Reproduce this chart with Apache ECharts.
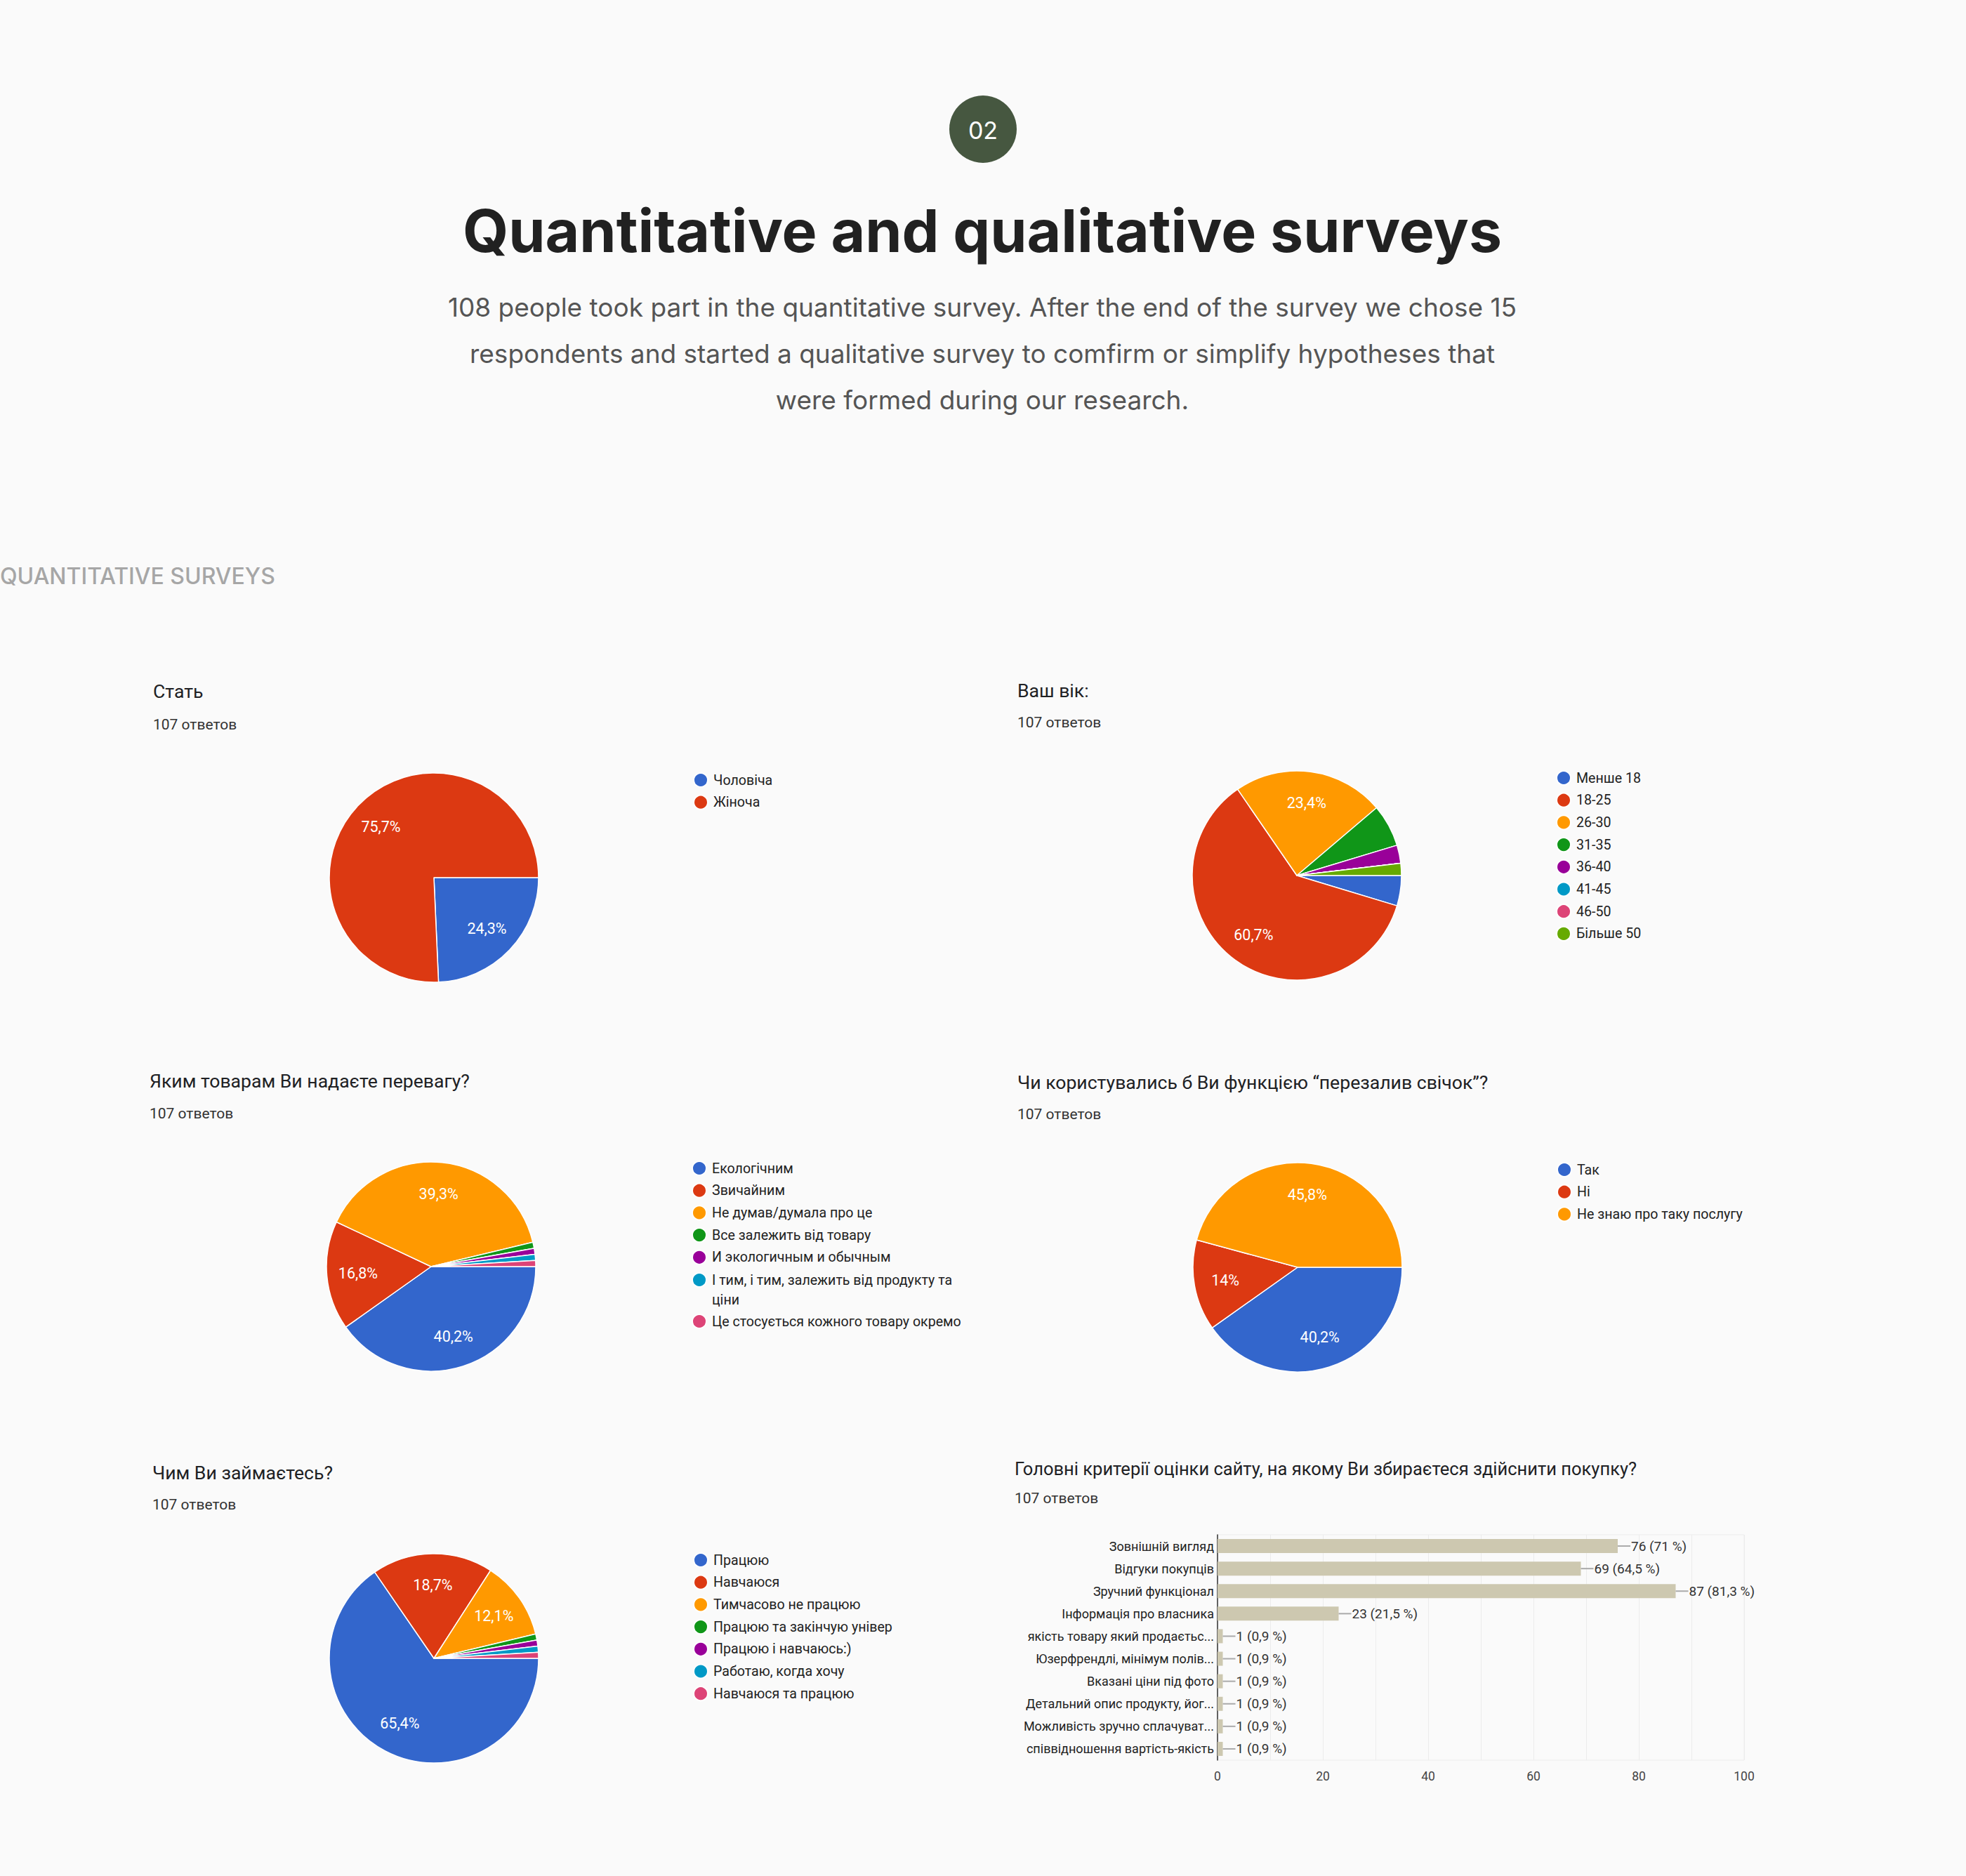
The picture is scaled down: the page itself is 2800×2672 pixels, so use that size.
<!DOCTYPE html>
<html><head><meta charset="utf-8">
<script src="https://cdn.jsdelivr.net/npm/echarts@6/dist/echarts.min.js"></script>
<style>html,body{margin:0;padding:0;background:#fafafa}#c{width:2800px;height:2672px}</style>
</head><body><div id="c"></div>
<script>
// ---------- data ----------
const TOTAL = 107;
const answersText = '107 ответов';
const panelTitles = ['Стать', 'Ваш вік:', 'Яким товарам Ви надаєте перевагу?',
  'Чи користувались б Ви функцією “перезалив свічок”?', 'Чим Ви займаєтесь?',
  'Головні критерії оцінки сайту, на якому Ви збираєтеся здійснити покупку?'];

const genderNames = ['Чоловіча', 'Жіноча'];
const genderValues = [26, 81];

const ageNames = ['Менше 18', '18-25', '26-30', '31-35', '36-40', '41-45', '46-50', 'Більше 50'];
const ageValues = [5, 65, 25, 7, 3, 0, 0, 2];

const goodsNames = ['Екологічним', 'Звичайним', 'Не думав/думала про це', 'Все залежить від товару',
  'И экологичным и обычным', 'І тим, і тим, залежить від продукту та ціни', 'Це стосується кожного товару окремо'];
const goodsValues = [43, 18, 42, 1, 1, 1, 1];

const refillNames = ['Так', 'Ні', 'Не знаю про таку послугу'];
const refillValues = [43, 15, 49];

const occNames = ['Працюю', 'Навчаюся', 'Тимчасово не працюю', 'Працюю та закінчую універ',
  'Працюю і навчаюсь:)', 'Работаю, когда хочу', 'Навчаюся та працюю'];
const occValues = [70, 20, 13, 1, 1, 1, 1];

const critNames = ['Зовнішній вигляд', 'Відгуки покупців', 'Зручний функціонал', 'Інформація про власника',
  'якість товару який продаєтьс...', 'Юзерфрендлі, мінімум полів...', 'Вказані ціни під фото',
  'Детальний опис продукту, йог...', 'Можливість зручно сплачуват...', 'співвідношення вартість-якість'];
const critValues = [76, 69, 87, 23, 1, 1, 1, 1, 1, 1];
const xTickLabels = [0, 20, 40, 60, 80, 100];

const palette = ['#3366cc', '#dc3912', '#ff9900', '#109618', '#990099', '#0099c6', '#dd4477', '#66aa00'];

// ---------- helpers ----------
function pct(v) {
  const p = Math.round(v / TOTAL * 1000) / 10;
  return (Number.isInteger(p) ? String(p) : p.toFixed(1)).replace('.', ',');
}
const R = 149;
function pieSeries(names, values, cx, cy) {
  const data = names.map((n, i) => ({ name: n, value: values[i], itemStyle: { color: palette[i] } }));
  return {
    main: {
      type: 'pie', center: [cx, cy], radius: [0, R], startAngle: 0, clockwise: true,
      avoidLabelOverlap: false, label: { show: false }, labelLine: { show: false },
      emphasis: { disabled: true }, animation: false,
      itemStyle: { borderColor: '#ffffff', borderWidth: 1.5 }, data: data
    },
    labels: {
      type: 'pie', center: [cx, cy], radius: [54, R], startAngle: 0, clockwise: true,
      avoidLabelOverlap: false, silent: true, animation: false, emphasis: { disabled: true },
      itemStyle: { color: 'rgba(0,0,0,0)', borderWidth: 0 },
      labelLine: { show: false },
      label: {
        show: true, position: 'inside', color: '#ffffff', fontSize: 21.5, fontFamily: 'Roboto',
        formatter: p => (p.value / TOTAL >= 0.1 ? pct(p.value) + '%' : '')
      },
      data: names.map((n, i) => ({ name: n, value: values[i] }))
    }
  };
}
function legend(names, left, top) {
  return {
    orient: 'vertical', left: left, top: top, padding: 0, itemGap: 3.7,
    itemWidth: 20, itemHeight: 20, icon: 'circle', selectedMode: false,
    data: names,
    formatter: n => n === 'І тим, і тим, залежить від продукту та ціни' ? '\nІ тим, і тим, залежить від продукту та\nціни' : n,
    textStyle: { fontSize: 19.6, fontFamily: 'Roboto', color: '#222222', lineHeight: 28, padding: [0, 0, 0, 3] }
  };
}
function txt(x, y, text, font, fill, align) {
  return { type: 'text', x: x, y: y, silent: true,
    style: { text: text, font: font, fill: fill, align: align || 'left', verticalAlign: 'middle' } };
}

// ---------- pies ----------
const p1 = pieSeries(genderNames, genderValues, 618, 1250);
const p2 = pieSeries(ageNames, ageValues, 1847, 1247);
const p3 = pieSeries(goodsNames, goodsValues, 614, 1804);
const p4 = pieSeries(refillNames, refillValues, 1848, 1805);
const p5 = pieSeries(occNames, occValues, 618, 2362);

const titleFonts = ['400 26.6px Roboto', '400 26.6px Roboto', '400 26.6px Roboto', '400 26.6px Roboto', '400 26.6px Roboto', '400 25.5px Roboto'];
const subFont = '400 21px Roboto';
const titleColor = '#202124';
const subColor = '#333333';
const panelPos = [[218, 984, 1032], [1449, 983, 1029], [213, 1539, 1586], [1449, 1541, 1587], [217, 2097, 2143], [1445, 2092, 2134]];

const subFontHeader = '400 37px Inter';
const graphics = [
  { type: 'circle', shape: { cx: 1400, cy: 184, r: 48 }, style: { fill: '#465740' }, silent: true },
  txt(1400, 185, '02', '400 34px Inter', '#ffffff', 'center'),
  txt(1399, 328, 'Quantitative and qualitative surveys', '700 84px Inter', '#212121', 'center'),
  txt(1399, 437, '108 people took part in the quantitative survey. After the end of the survey we chose 15', subFontHeader, '#555555', 'center'),
  txt(1399, 503, 'respondents and started a qualitative survey to comfirm or simplify hypotheses that', subFontHeader, '#555555', 'center'),
  txt(1399, 569, 'were formed during our research.', subFontHeader, '#555555', 'center'),
  txt(0, 820, 'QUANTITATIVE SURVEYS', '500 32px Inter', '#a6a6a6', 'left')
];
panelPos.forEach((p, i) => {
  graphics.push(txt(p[0], p[1], panelTitles[i], titleFonts[i], titleColor));
  graphics.push(txt(p[0], p[2], answersText, subFont, subColor));
});

const option = {
  backgroundColor: '#fafafa',
  animation: false,
  textStyle: { fontFamily: 'Roboto' },
  graphic: graphics,
  legend: [
    legend(genderNames, 987, 1097),
    legend(ageNames, 2216, 1094),
    legend(goodsNames.slice(0, 5), 985, 1650),
    legend(goodsNames.slice(5, 6), 985, 1781),
    legend(goodsNames.slice(6), 985, 1868),
    legend(refillNames, 2217, 1652),
    legend(occNames, 987, 2208)
  ],
  grid: { left: 1734, top: 2186, width: 750, height: 321, show: true, borderColor: '#ececec', borderWidth: 1, backgroundColor: 'rgba(0,0,0,0)' },
  xAxis: {
    type: 'value', min: 0, max: 100, interval: 10,
    axisLine: { show: false }, axisTick: { show: false },
    splitLine: { show: true, lineStyle: { color: '#ececec', width: 1 } },
    axisLabel: { fontSize: 17.5, color: '#444444', margin: 14, fontFamily: 'Roboto',
      formatter: v => (xTickLabels.indexOf(v) >= 0 ? String(v) : '') }
  },
  yAxis: {
    type: 'category', data: critNames, inverse: true,
    axisLine: { show: true, lineStyle: { color: '#333333', width: 1.5 } },
    axisTick: { show: false },
    axisLabel: { fontSize: 18, color: '#222222', margin: 5, fontFamily: 'Roboto' }
  },
  series: [
    p1.main, p2.main, p3.main, p4.main, p5.main,
    p1.labels, p2.labels, p3.labels, p4.labels, p5.labels,
    {
      type: 'bar', data: critValues, barWidth: 20, silent: true,
      itemStyle: { color: '#cdc8b0' },
      label: {
        show: true, position: 'right', distance: 0,
        formatter: p => '{l|}{t|' + p.value + ' (' + pct(p.value) + ' %)}',
        rich: {
          l: { width: 18, height: 2, backgroundColor: '#aaaaaa', verticalAlign: 'middle' },
          t: { fontSize: 19, color: '#333333', fontFamily: 'Roboto', padding: [0, 0, 0, 1] }
        }
      }
    }
  ]
};

const chart = echarts.init(document.getElementById('c'), null, { renderer: 'svg', width: 2800, height: 2672 });
chart.setOption(option);
</script>
</body></html>
